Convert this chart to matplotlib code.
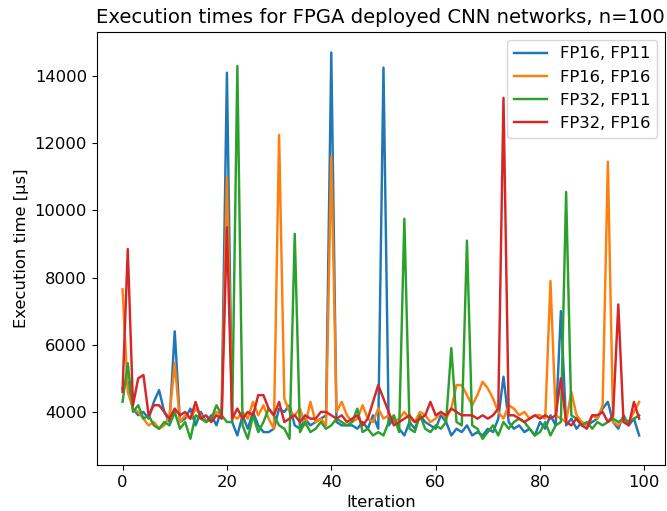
import numpy as np
import matplotlib.pyplot as plt

iterations = np.arange(100)

fp16_fp11 = [4700, 4900, 4100, 3900, 4000, 3800, 4300, 4650, 4000, 3700,
             6400, 3700, 3800, 4100, 3600, 4000, 3700, 3900, 3600, 4100,
             14100, 3700, 3300, 3900, 3500, 4000, 3600, 3400, 3400, 3500,
             4100, 4000, 4200, 3600, 3500, 3800, 3600, 3700, 3800, 3900,
             14700, 3700, 3600, 3600, 3600, 3500, 3700, 3500, 3900, 3500,
             14250, 3600, 3800, 3500, 3300, 3700, 3500, 3900, 3700, 3600,
             3500, 3900, 3700, 3300, 3500, 3400, 3600, 3300, 3400, 3300,
             3500, 3400, 3800, 5050, 3700, 3500, 3600, 3400, 3500, 3300,
             3700, 3500, 3900, 3600, 7000, 3600, 3800, 3500, 3700, 3600,
             3700, 3800, 4100, 4300, 3700, 3500, 3900, 3600, 3800, 3300]

fp16_fp16 = [7650, 4600, 4100, 4000, 3800, 3600, 3700, 3500, 3600, 3900,
             5450, 3700, 3900, 3800, 4100, 3900, 3700, 3800, 4000, 3900,
             11000, 3900, 3800, 4000, 3800, 4300, 3900, 4200, 3800, 3500,
             12250, 4400, 4000, 3900, 4100, 3600, 4300, 3700, 3800, 3600,
             11600, 4000, 4300, 3900, 3700, 3800, 4200, 3800, 3700, 4100,
             3800, 3900, 3700, 3800, 4000, 3800, 3700, 4000, 3900, 3700,
             3800, 4000, 3800, 4100, 4800, 4800, 4500, 4200, 4500, 4900,
             4700, 4400, 4000, 3800, 4200, 4100, 3900, 4000, 3800, 3900,
             3900, 3800, 7900, 3900, 3800, 3700, 4600, 3900, 3700, 3600,
             3900, 3800, 4200, 11450, 3700, 3600, 3800, 3700, 4000, 4300]

fp32_fp11 = [4300, 5450, 4000, 4200, 3800, 3900, 3600, 3500, 3700, 3600,
             4000, 3500, 3700, 3200, 3900, 3800, 3700, 3800, 4200, 3900,
             3700, 3700, 14300, 3600, 3200, 3900, 3400, 3700, 4100, 3900,
             3600, 3500, 3200, 9300, 3400, 3700, 3400, 3500, 3700, 3500,
             3600, 3800, 3700, 3600, 3700, 4100, 3400, 3500, 3300, 3400,
             3300, 3700, 3900, 3400, 9750, 3500, 3400, 3900, 3500, 3400,
             3600, 3500, 3700, 5900, 3700, 3600, 9100, 3600, 3500, 3200,
             3400, 3600, 3300, 3700, 3500, 3700, 3800, 3700, 3500, 3300,
             3400, 3700, 3300, 3600, 3700, 10550, 3900, 3800, 3600, 3700,
             3500, 3700, 3600, 3700, 3800, 3700, 3800, 3700, 3800, 3900]

fp32_fp16 = [4600, 8850, 4200, 5000, 5100, 3900, 4200, 4200, 4000, 3800,
             4100, 3900, 4000, 3800, 4300, 3800, 3900, 3700, 3900, 3800,
             9500, 3800, 4100, 3800, 4000, 3900, 4500, 4500, 4100, 3900,
             4300, 3700, 3800, 3900, 3700, 3900, 3800, 3800, 4000, 4000,
             3900, 3800, 3900, 3700, 3800, 3900, 3600, 3800, 4300, 4800,
             4400, 4000, 3600, 3700, 3800, 3900, 3700, 3800, 3900, 4300,
             3900, 4000, 3900, 4100, 4000, 3900, 3900, 3900, 3800, 3900,
             3800, 3900, 4100, 13350, 3900, 3900, 3800, 3700, 3800, 3900,
             3800, 3900, 3800, 3900, 5000, 3700, 3600, 3800, 3600, 3500,
             3900, 3900, 4000, 3700, 3900, 7200, 3700, 3600, 4300, 3800]

plt.rcParams["font.size"] = 11.8
plt.rcParams["lines.linewidth"] = 1.75

fig = plt.figure(figsize=(6.67, 5.11), dpi=100)
ax = fig.add_axes([0.145, 0.09, 0.852, 0.848])

ax.plot(iterations, fp16_fp11, label="FP16, FP11")
ax.plot(iterations, fp16_fp16, label="FP16, FP16")
ax.plot(iterations, fp32_fp11, label="FP32, FP11")
ax.plot(iterations, fp32_fp16, label="FP32, FP16")

ax.set_ylim(2420, 15320)
ax.set_xlabel("Iteration")
ax.set_ylabel("Execution time [µs]")
ax.set_title("Execution times for FPGA deployed CNN networks, n=100")
ax.legend(loc="upper right")

fig.savefig("out.png", dpi=100)
